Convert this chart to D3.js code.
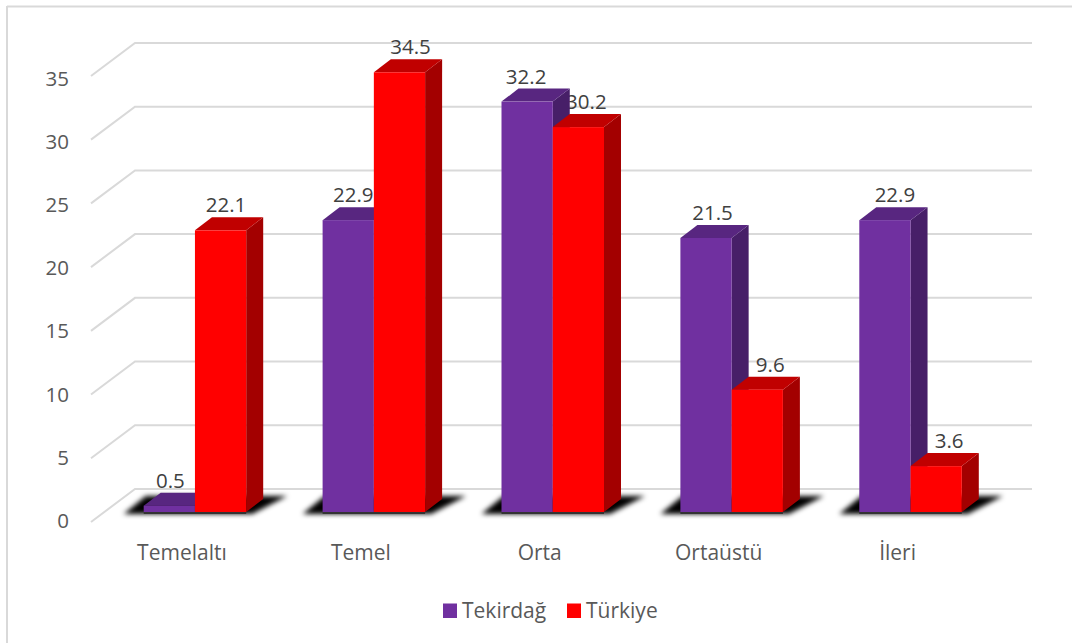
<!DOCTYPE html>
<html lang="tr"><head><meta charset="utf-8">
<script src="https://cdn.jsdelivr.net/npm/d3@7/dist/d3.min.js"></script>
<style>html,body{margin:0;padding:0;background:#fff}svg{display:block}text{font-family:"Open Sans",sans-serif}</style>
</head><body><svg id="c" width="1072" height="643"></svg>
<script>
const categories=["Temelaltı","Temel","Orta","Ortaüstü","İleri"];
const seriesNames=["Tekirdağ","Türkiye"];
const tekirdag=[0.5,22.9,32.2,21.5,22.9];
const turkiye=[22.1,34.5,30.2,9.6,3.6];
const yTicks=[0,5,10,15,20,25,30,35];
const palette={Tekirdağ:{front:"#7030a0",top:"#582680",side:"#471f68"},Türkiye:{front:"#ff0000",top:"#c00000",side:"#a30000"}};

const svg=d3.select("#c");
const depthX=17,depthY=13;
const y=d3.scaleLinear().domain([0,35]).range([512,512-35*12.745]);
const yLabel=d3.scaleLinear().domain([0,35]).range([528,85.5]);
const x=d3.scaleBand().domain(categories).range([105.5,1000]);
const xS=d3.scaleBand().domain(seriesNames).range([0,102.5]);
const gridFrontX=91,gridBackX=135,gridEndX=1032,gridFrontDy=10,gridBackDy=-23;

// frame
const frame=svg.append("g").attr("stroke","#d9d9d9").attr("stroke-width",2);
frame.append("line").attr("x1",7).attr("x2",1072).attr("y1",6.5).attr("y2",6.5);
frame.append("line").attr("x1",7).attr("x2",7).attr("y1",6).attr("y2",643);

// gridlines
svg.append("g").selectAll("polyline").data(yTicks).join("polyline")
  .attr("fill","none").attr("stroke","#d9d9d9").attr("stroke-width",2)
  .attr("points",d=>`${gridFrontX},${y(d)+gridFrontDy} ${gridBackX},${y(d)+gridBackDy} ${gridEndX},${y(d)+gridBackDy}`);

// y tick labels
svg.append("g").selectAll("text").data(yTicks).join("text")
  .attr("x",69).attr("y",d=>yLabel(d)).attr("text-anchor","end")
  .attr("font-size",20.5).attr("fill","#595959").text(d=>d);

// shadow
const defs=svg.append("defs");
defs.append("filter").attr("id","blur").attr("x","-20%").attr("y","-100%").attr("width","140%").attr("height","300%")
  .append("feGaussianBlur").attr("stdDeviation",2.6);
svg.append("g").selectAll("polygon").data(categories).join("polygon")
  .attr("fill","#000").attr("filter","url(#blur)")
  .attr("points",c=>{
    const l=x(c)+(x.bandwidth()-102.5)/2, r=l+102.5, b=y(0);
    return `${l-20},${b+2} ${r+6},${b+2} ${r+depthX+24},${b-depthY-3} ${l+2},${b-depthY-3}`;
  });
svg.append("g").selectAll("rect").data(categories).join("rect")
  .attr("fill","#333").attr("height",2).attr("y",y(0))
  .attr("x",c=>x(c)+(x.bandwidth()-102.5)/2).attr("width",102.5);

const rows=categories.flatMap((c,i)=>[
  {c,s:seriesNames[0],v:tekirdag[i]},{c,s:seriesNames[1],v:turkiye[i]}]);
const labelNudge=[1,5.5,5,11,-1,8,6.5,13,10,13];
const L=d=>x(d.c)+(x.bandwidth()-102.5)/2+xS(d.s), R=d=>L(d)+xS.bandwidth();

// value labels sit behind the bars, which cut into them where they overlap
svg.append("g").selectAll("text").data(rows).join("text")
  .attr("x",(d,i)=>(L(d)+R(d))/2+labelNudge[i]).attr("y",d=>y(d.v)-18).attr("text-anchor","middle")
  .attr("font-size",20.5).attr("fill","#404040").text(d=>d.v.toFixed(1));

const bars=svg.append("g").selectAll("g").data(rows).join("g");
bars.append("polygon").attr("fill",d=>palette[d.s].side)
  .attr("points",d=>`${R(d)},${y(d.v)} ${R(d)+depthX},${y(d.v)-depthY} ${R(d)+depthX},${y(0)-depthY} ${R(d)},${y(0)}`);
bars.append("polygon").attr("fill",d=>palette[d.s].top)
  .attr("points",d=>`${L(d)},${y(d.v)} ${L(d)+depthX},${y(d.v)-depthY} ${R(d)+depthX},${y(d.v)-depthY} ${R(d)},${y(d.v)}`);
bars.append("rect").attr("fill",d=>palette[d.s].front)
  .attr("x",L).attr("width",xS.bandwidth()).attr("y",d=>y(d.v)).attr("height",d=>y(0)-y(d.v));

// category labels
svg.append("g").selectAll("text").data(categories).join("text")
  .attr("x",c=>x(c)+x.bandwidth()/2-13).attr("y",560).attr("text-anchor","middle")
  .attr("font-size",21).attr("fill","#595959").text(c=>c);

// legend
const legendX=[443,567];
const lg=svg.append("g").selectAll("g").data(seriesNames).join("g");
lg.append("rect").attr("x",(d,i)=>legendX[i]).attr("y",603.5).attr("width",14).attr("height",14.5).attr("fill",d=>palette[d].front);
lg.append("text").attr("x",(d,i)=>legendX[i]+19).attr("y",618).attr("font-size",21).attr("fill","#595959").text(d=>d);
</script></body></html>
